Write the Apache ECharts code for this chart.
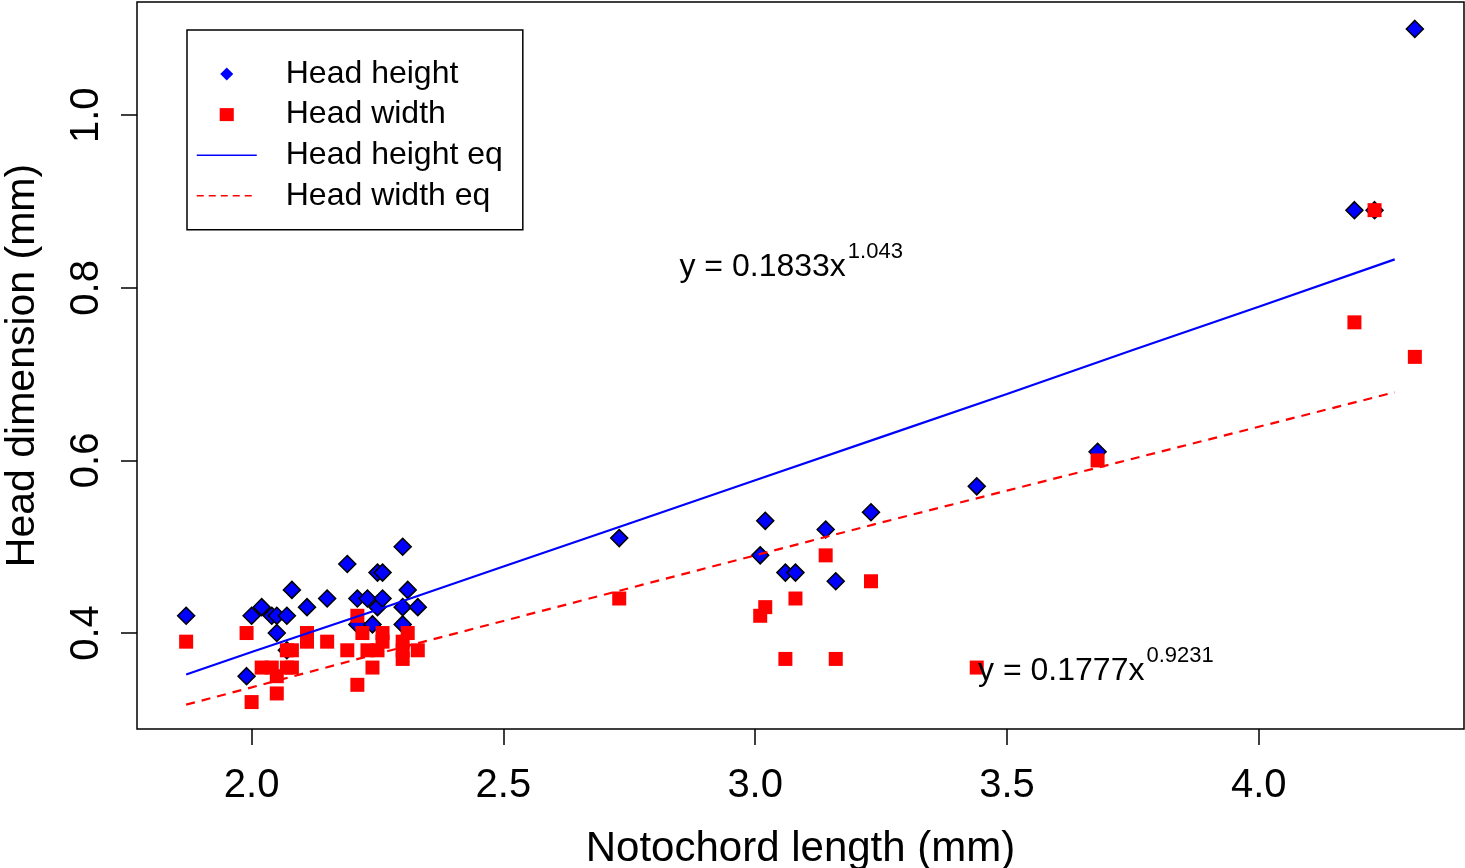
<!DOCTYPE html>
<html>
<head>
<meta charset="utf-8">
<script src="https://cdn.jsdelivr.net/npm/echarts@6/dist/echarts.min.js"></script>
<style>
html,body{margin:0;padding:0;background:#fff;}
#chart{width:1465px;height:868px;}
</style>
</head>
<body>
<div id="chart"></div>
<script>
// ---- data ----
const heightX = [1.87,1.99,2.00,2.02,2.04,2.05,2.05,2.07,2.07,2.08,2.11,2.15,2.19,2.21,2.21,2.23,2.24,2.25,2.25,2.26,2.26,2.30,2.30,2.30,2.31,2.33,2.73,3.01,3.02,3.06,3.08,3.14,3.16,3.23,3.44,3.68,4.19,4.23,4.31];
const heightY = [0.42,0.35,0.42,0.43,0.42,0.42,0.40,0.42,0.38,0.45,0.43,0.44,0.48,0.44,0.41,0.44,0.41,0.47,0.43,0.47,0.44,0.50,0.43,0.41,0.45,0.43,0.51,0.49,0.53,0.47,0.47,0.52,0.46,0.54,0.57,0.61,0.89,0.89,1.10];

const widthX = [1.87,1.99,2.00,2.02,2.04,2.05,2.05,2.07,2.07,2.08,2.08,2.11,2.11,2.15,2.19,2.21,2.21,2.22,2.23,2.24,2.25,2.26,2.26,2.30,2.30,2.30,2.31,2.33,2.73,3.01,3.02,3.06,3.08,3.14,3.16,3.23,3.44,3.68,4.19,4.23,4.31];
const widthY = [0.39,0.40,0.32,0.36,0.36,0.35,0.33,0.38,0.36,0.38,0.36,0.40,0.39,0.39,0.38,0.42,0.34,0.40,0.38,0.36,0.38,0.40,0.39,0.39,0.38,0.37,0.40,0.38,0.44,0.42,0.43,0.37,0.44,0.49,0.37,0.46,0.36,0.60,0.76,0.89,0.72];

const fitX = [1.87,2.00,2.25,2.50,2.75,3.00,3.25,3.50,3.75,4.00,4.27];
const heightFit = [0.352,0.378,0.427,0.477,0.527,0.577,0.627,0.677,0.728,0.778,0.833];
const widthFit  = [0.317,0.337,0.376,0.414,0.452,0.490,0.528,0.565,0.602,0.639,0.679];

const xTicks = [2.0,2.5,3.0,3.5,4.0];
const yTicks = [0.4,0.6,0.8,1.0];

const seriesNames = ['Head height','Head width','Head height eq','Head width eq'];
const annMain = ['y = 0.1833x','y = 0.1777x'];
const annSup  = ['1.043','0.9231'];
const annX = [3.18, 3.773];
const annY = [0.824, 0.356];

const xRange = [1.7724, 4.4076];
const yRange = [0.2888, 1.1312];
// --------------------------------------

const FONT = '"Liberation Sans", Arial, sans-serif';
const zip = (a, b) => a.map((v, i) => [v, b[i]]);
const clear = {color: 'rgba(0,0,0,0)', borderWidth: 0, opacity: 0};

const chart = echarts.init(document.getElementById('chart'), null, {renderer: 'canvas'});

const option = {
  animation: false,
  backgroundColor: '#fff',
  textStyle: {fontFamily: FONT},
  grid: {
    left: 137, right: 1, top: 2, bottom: 139,
    outerBoundsMode: 'none',
    containLabel: false,
    show: true, borderColor: '#000', borderWidth: 1.5, backgroundColor: 'transparent'
  },
  legend: {
    orient: 'vertical',
    left: 187, top: 30,
    padding: [28, 20, 18, 9],
    itemGap: 8.6,
    itemWidth: 60, itemHeight: 13,
    symbolKeepAspect: true,
    borderColor: '#000', borderWidth: 1.5,
    backgroundColor: '#fff',
    textStyle: {fontFamily: FONT, fontSize: 32, lineHeight: 32, color: '#000', padding: [0, 0, 0, 24]},
    data: [
      {name: seriesNames[0], icon: 'path://M0,-6L6,0L0,6L-6,0Z', itemStyle: {borderWidth: 0, color: '#0000ff'}},
      {name: seriesNames[1], icon: 'path://M0,0H13V12H0Z', itemStyle: {borderWidth: 0, color: '#ff0000'}},
      {name: seriesNames[2], itemStyle: clear, lineStyle: {color: '#0000ff', width: 1.5}},
      {name: seriesNames[3], itemStyle: clear, lineStyle: {color: '#ff0000', width: 1.5, type: [7, 5]}}
    ]
  },
  xAxis: {
    type: 'value', min: xRange[0], max: xRange[1],
    name: 'Notochord length (mm)', nameLocation: 'middle', nameGap: 99,
    nameTextStyle: {fontFamily: FONT, fontSize: 42, lineHeight: 42, color: '#000'},
    axisLine: {show: false},
    splitLine: {show: false},
    axisTick: {show: true, inside: false, length: 16, lineStyle: {color: '#000', width: 1.5}, customValues: xTicks},
    axisLabel: {show: true, margin: 37, fontFamily: FONT, fontSize: 40, lineHeight: 40, color: '#000',
      customValues: xTicks, formatter: v => v.toFixed(1)}
  },
  yAxis: {
    type: 'value', min: yRange[0], max: yRange[1],
    name: 'Head dimension (mm)', nameLocation: 'middle', nameGap: 94,
    nameTextStyle: {fontFamily: FONT, fontSize: 41, lineHeight: 41, color: '#000'},
    axisLine: {show: false},
    splitLine: {show: false},
    axisTick: {show: true, inside: false, length: 16, lineStyle: {color: '#000', width: 1.5}, customValues: yTicks},
    axisLabel: {show: true, margin: 30, rotate: 90, fontFamily: FONT, fontSize: 40, lineHeight: 40, color: '#000',
      customValues: yTicks, formatter: v => v.toFixed(1)}
  },
  series: [
    {
      name: seriesNames[0], type: 'scatter', symbol: 'diamond', symbolSize: 17,
      itemStyle: {color: '#0000ff', borderColor: '#000', borderWidth: 1.5, opacity: 1},
      data: zip(heightX, heightY), z: 2
    },
    {
      name: seriesNames[1], type: 'scatter', symbol: 'rect', symbolSize: 14,
      itemStyle: {color: '#ff0000', opacity: 1},
      data: zip(widthX, widthY), z: 2
    },
    {
      name: seriesNames[2], type: 'line', symbol: 'none', showSymbol: false,
      lineStyle: {color: '#0000ff', width: 2.2},
      itemStyle: {color: '#0000ff'},
      data: zip(fitX, heightFit), z: 3
    },
    {
      name: seriesNames[3], type: 'line', symbol: 'none', showSymbol: false,
      lineStyle: {color: '#ff0000', width: 2.2, type: [9, 7]},
      itemStyle: {color: '#ff0000'},
      data: zip(fitX, widthFit), z: 3
    }
  ]
};
chart.setOption(option);

const graphics = [];
for (let i = 0; i < annMain.length; i++) {
  const p = chart.convertToPixel({gridIndex: 0}, [annX[i], annY[i]]);
  graphics.push({
    type: 'text', x: p[0], y: p[1], z: 10,
    style: {text: annMain[i], font: '32px ' + FONT, fill: '#000', align: 'right', verticalAlign: 'middle'}
  });
  graphics.push({
    type: 'text', x: p[0] + 2, y: p[1] - 15, z: 10,
    style: {text: annSup[i], font: '22px ' + FONT, fill: '#000', align: 'left', verticalAlign: 'middle'}
  });
}
chart.setOption({graphic: graphics});
</script>
</body>
</html>
